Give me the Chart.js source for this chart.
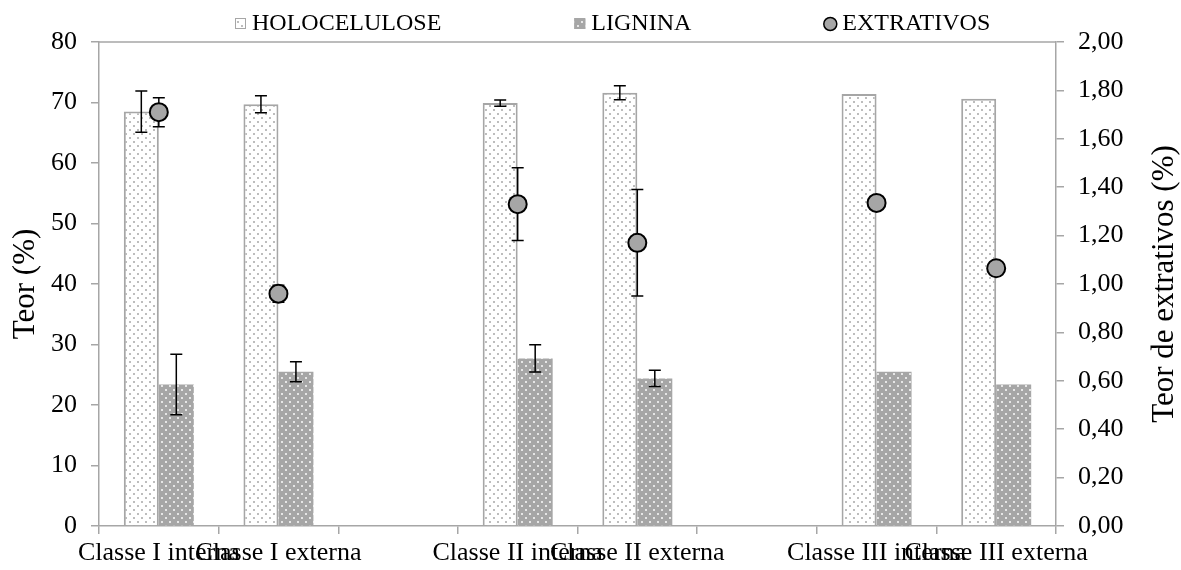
<!DOCTYPE html>
<html>
<head>
<meta charset="utf-8">
<script src="https://cdn.jsdelivr.net/npm/chart.js@4.4.1/dist/chart.umd.min.js"></script>
<style>
    html, body { margin: 0; padding: 0; background: #fff; }
</style>
</head>
<body>
<canvas id="teorChart" width="1181" height="570"></canvas>
<script>
// categorias (as vazias fazem o espaço entre as classes)
const categories = ["Classe I interna", "Classe I externa", "", "Classe II interna", "Classe II externa", "", "Classe III interna", "Classe III externa"];

const holocelulose = [68.5, 69.7, null, 69.9, 71.6, null, 71.4, 70.6];
const holocelulosePm = [3.4, 1.4, null, 0.5, 1.15, null, null, null];

const lignina = [23.4, 25.5, null, 27.7, 24.4, null, 25.5, 23.4];
const ligninaPm = [5.0, 1.65, null, 2.25, 1.35, null, null, null];

const extrativos = [1.71, 0.96, null, 1.33, 1.17, null, 1.335, 1.065];
const extrativosPm = [0.06, 0.035, null, 0.15, 0.22, null, null, null];

const serif = "'Liberation Serif', 'Times New Roman', serif";
const axisGray = "#a6a6a6";

// fundo pontilhado das barras
const dotPattern = (bg, dot, size, dotSize) => {
    const c = document.createElement("canvas");
    c.width = size;
    c.height = size;
    const g = c.getContext("2d");
    g.fillStyle = bg;
    g.fillRect(0, 0, size, size);
    g.fillStyle = dot;
    g.fillRect(1, 1, dotSize, dotSize);
    g.fillRect(1 + size / 2, 1 + size / 2, dotSize, dotSize);
    return g.createPattern(c, "repeat");
};

const holoFill = dotPattern("#ffffff", "#bdbdbd", 8, 2);
const ligFill = dotPattern("#a6a6a6", "#e6e6e6", 8, 2);

const drawErrors = (chart, index) => {
    const ds = chart.data.datasets[index];
    if (!ds.errors) return;
    const meta = chart.getDatasetMeta(index);
    const yScale = chart.scales[meta.yAxisID];
    const ctx = chart.ctx;
    ctx.save();
    ctx.strokeStyle = "#000";
    ctx.lineWidth = 1.5;
    meta.data.forEach((el, j) => {
        const v = ds.data[j];
        const e = ds.errors[j];
        if (v == null || e == null) return;
        const top = yScale.getPixelForValue(v + e);
        const bot = yScale.getPixelForValue(v - e);
        ctx.beginPath();
        ctx.moveTo(el.x, top);
        ctx.lineTo(el.x, bot);
        ctx.moveTo(el.x - 6, top);
        ctx.lineTo(el.x + 6, top);
        ctx.moveTo(el.x - 6, bot);
        ctx.lineTo(el.x + 6, bot);
        ctx.stroke();
    });
    ctx.restore();
};

const errorBars = {
    id: "errorBars",
    beforeDatasetDraw(chart, args) {
        if (args.meta.type === "line") drawErrors(chart, args.index);
    },
    afterDatasetDraw(chart, args) {
        if (args.meta.type === "bar") drawErrors(chart, args.index);
    }
};

// borda de cima, legenda e titulo do eixo direito
const extras = {
    id: "extras",
    beforeDatasetsDraw(chart) {
        const { ctx, chartArea } = chart;
        ctx.save();
        ctx.strokeStyle = axisGray;
        ctx.lineWidth = 1.5;
        ctx.beginPath();
        ctx.moveTo(chartArea.left, chartArea.top);
        ctx.lineTo(chartArea.right, chartArea.top);
        ctx.stroke();
        ctx.restore();
    },
    afterDraw(chart) {
        const ctx = chart.ctx;
        const y1 = chart.scales.y1;
        const area = chart.chartArea;
        ctx.save();

        // titulo do eixo secundario, lido de baixo para cima
        ctx.font = "31px " + serif;
        ctx.fillStyle = "#000";
        ctx.textAlign = "center";
        ctx.textBaseline = "middle";
        ctx.translate(y1.right - 16, (area.top + area.bottom) / 2);
        ctx.rotate(-Math.PI / 2);
        ctx.fillText("Teor de extrativos (%)", 0, 0);
        ctx.setTransform(1, 0, 0, 1, 0, 0);

        // legenda
        const ly = 24;
        const gap = 133;
        ctx.font = "24px " + serif;
        ctx.textAlign = "left";
        let x = 235;
        chart.data.datasets.forEach(ds => {
            if (ds.type === "line") {
                ctx.beginPath();
                ctx.arc(x + 6, ly, 6.5, 0, Math.PI * 2);
                ctx.fillStyle = ds.pointBackgroundColor;
                ctx.fill();
                ctx.lineWidth = 1.5;
                ctx.strokeStyle = "#000";
                ctx.stroke();
                x += 18;
            } else {
                ctx.fillStyle = ds.backgroundColor;
                ctx.fillRect(x, ly - 6, 11, 11);
                ctx.lineWidth = 1;
                ctx.strokeStyle = axisGray;
                ctx.strokeRect(x + 0.5, ly - 5.5, 10, 10);
                x += 17;
            }
            ctx.fillStyle = "#000";
            ctx.fillText(ds.label, x, ly);
            x += ctx.measureText(ds.label).width + gap;
        });
        ctx.restore();
    }
};

new Chart(document.getElementById("teorChart"), {
    data: {
        labels: categories,
        datasets: [
            {
                type: "bar",
                label: "HOLOCELULOSE",
                data: holocelulose,
                errors: holocelulosePm,
                backgroundColor: holoFill,
                borderColor: axisGray,
                borderWidth: 2,
                yAxisID: "y",
                order: 1
            },
            {
                type: "bar",
                label: "LIGNINA",
                data: lignina,
                errors: ligninaPm,
                backgroundColor: ligFill,
                borderWidth: 0,
                yAxisID: "y",
                order: 1
            },
            {
                type: "line",
                label: "EXTRATIVOS",
                data: extrativos,
                errors: extrativosPm,
                yAxisID: "y1",
                showLine: false,
                pointRadius: 9,
                pointHoverRadius: 9,
                pointBackgroundColor: "#a6a6a6",
                pointBorderColor: "#000",
                pointBorderWidth: 2,
                order: 0
            }
        ]
    },
    options: {
        responsive: false,
        animation: false,
        devicePixelRatio: 1,
        layout: { padding: { top: 42, left: 0, right: 0, bottom: 0 } },
        datasets: {
            bar: { categoryPercentage: 0.585, barPercentage: 1 }
        },
        plugins: {
            legend: { display: false },
            tooltip: { enabled: false }
        },
        scales: {
            x: {
                offset: true,
                grid: { offset: true, drawOnChartArea: false, tickLength: 8, color: axisGray, lineWidth: 1.5 },
                border: { color: axisGray, width: 1.5 },
                ticks: {
                    autoSkip: false, maxRotation: 0, minRotation: 0, padding: 4,
                    color: "#000", font: { family: serif, size: 26 }
                },
                afterFit: s => { s.height = 44; }
            },
            y: {
                position: "left",
                min: 0,
                max: 80,
                grid: { drawOnChartArea: false, tickLength: 8, color: axisGray, lineWidth: 1.5 },
                border: { color: axisGray, width: 1.5 },
                ticks: { stepSize: 10, padding: 14, color: "#000", font: { family: serif, size: 26 } },
                title: {
                    display: true, text: "Teor (%)", color: "#000",
                    font: { family: serif, size: 31 }, padding: { top: 7, bottom: 0 }
                },
                afterFit: s => { s.width = 99; }
            },
            y1: {
                position: "right",
                min: 0,
                max: 2,
                grid: { drawOnChartArea: false, tickLength: 8, color: axisGray, lineWidth: 1.5 },
                border: { color: axisGray, width: 1.5 },
                ticks: {
                    stepSize: 0.2, padding: 14, color: "#000", font: { family: serif, size: 26 },
                    callback: v => v.toFixed(2).replace(".", ",")
                },
                afterFit: s => { s.width = 125; }
            }
        }
    },
    plugins: [errorBars, extras]
});
</script>
</body>
</html>
